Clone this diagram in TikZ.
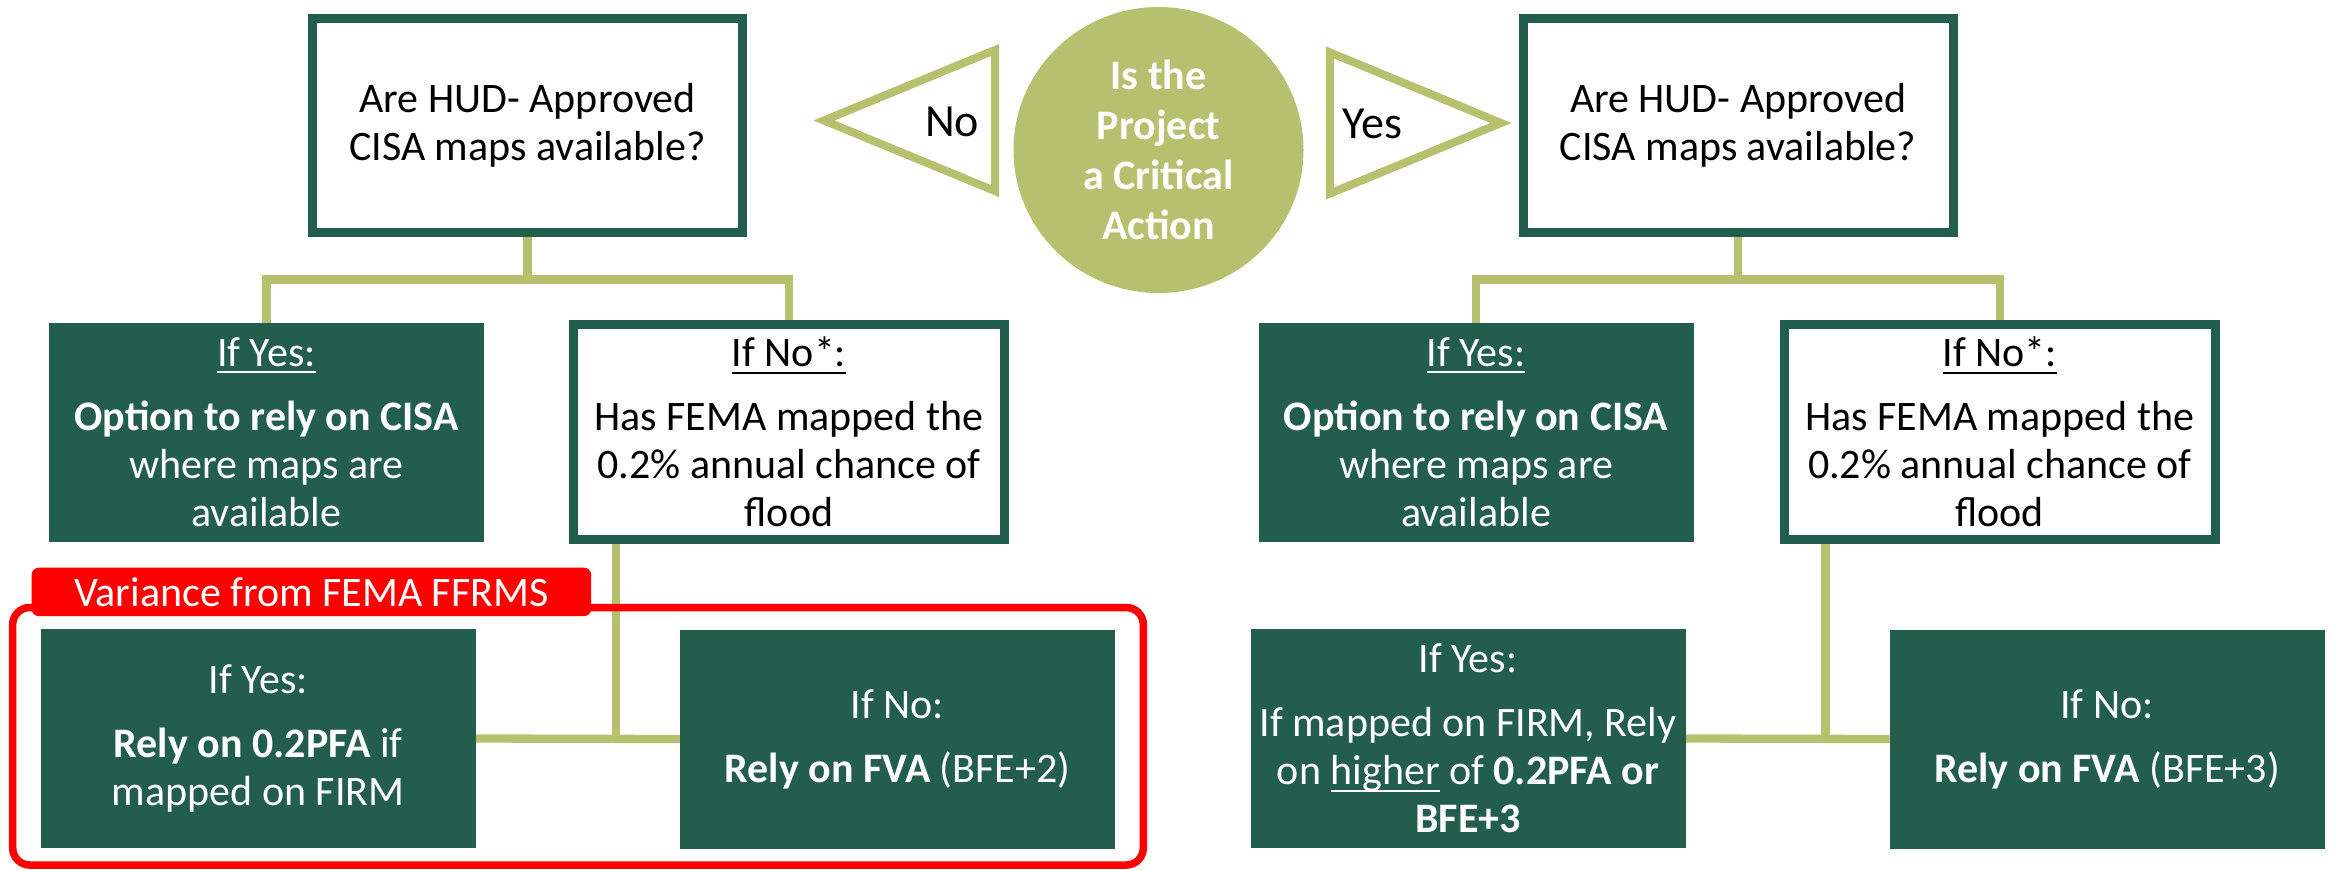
\documentclass[tikz,border=0pt]{standalone}
\usepackage{fontspec}
\setmainfont{Carlito}
\usetikzlibrary{shapes.geometric,backgrounds}
\definecolor{dkgreen}{HTML}{225E4B}
\definecolor{olivegr}{HTML}{B5C16F}
\definecolor{redx}{HTML}{FF0000}
\newcommand\myul[1]{\setbox0\hbox{#1}\rlap{\rule[-3.5pt]{\wd0}{1pt}}\box0\relax}
\begin{document}
\begin{tikzpicture}[x=0.5pt,y=-0.5pt,
  every node/.style={inner sep=0pt, outer sep=0pt},
  txt/.style={font=\fontsize{21}{24}\selectfont, align=center},
  qbox/.style={txt, draw=dkgreen, line width=4.5pt, fill=white, minimum width=215pt, minimum height=107pt, text=black},
  nbox/.style={txt, draw=dkgreen, line width=4.5pt, fill=white, minimum width=215.5pt, minimum height=107.5pt, text=black},
  gbox/.style={txt, fill=dkgreen, minimum width=217.5pt, minimum height=109.5pt, text=white},
  conn/.style={draw=olivegr, line width=4.15pt},
  tri/.style={draw=olivegr, line width=4pt, fill=white, line join=miter},
  lbl/.style={font=\fontsize{23}{27}\selectfont, text=black}]
\useasboundingbox (0,0) rectangle (2336,869);

% top question boxes
\node[qbox] (qL) at (527.5,125.5) {Are HUD- Approved\\CISA maps available?};
\node[qbox] (qR) at (1738,125.5) {Are HUD- Approved\\CISA maps available?};

% central decision
\node[ellipse, fill=olivegr, minimum width=145pt, minimum height=143pt, align=center,
      font=\bfseries\fontsize{21}{25}\selectfont, text=white] (crit) at (1158.5,150)
      {Is the\\Project\\a Critical\\Action};

% arrow triangles
\coordinate (tnA) at (824,120.5);
\coordinate (tnB) at (995,50);
\coordinate (tnC) at (995,191);
\draw[tri] (tnA) -- (tnB) -- (tnC) -- cycle;
\coordinate (tyA) at (1330,52.5);
\coordinate (tyB) at (1330,193.5);
\coordinate (tyC) at (1501,123);
\draw[tri] (tyA) -- (tyB) -- (tyC) -- cycle;
\node[lbl] (no) at (952,122) {No};
\node[lbl] (yes) at (1372,124) {Yes};

% second row
\node[gbox] (ayL) at (266.5,432) {\myul{If Yes:}\\[8pt]\textbf{Option to rely on CISA}\\where maps are\\available};
\node[nbox] (anL) at (789,432) {\myul{If No*:}\\[8pt]Has FEMA mapped the\\0.2\% annual chance of\\flood};
\node[gbox] (ayR) at (1476,432) {\myul{If Yes:}\\[8pt]\textbf{Option to rely on CISA}\\where maps are\\available};
\node[nbox] (anR) at (1999.75,432) {\myul{If No*:}\\[8pt]Has FEMA mapped the\\0.2\% annual chance of\\flood};

% third row
\node[gbox] (byL) at (258.25,738.5) {If Yes:\\[8pt]\textbf{Rely on 0.2PFA} if\\mapped on FIRM};
\node[gbox] (bnL) at (897.5,739) {If No:\\[8pt]\textbf{Rely on FVA} (BFE+2)};
\node[gbox] (byR) at (1468,738.5) {If Yes:\\[8pt]If mapped on FIRM, Rely\\on \myul{higher} of \textbf{0.2PFA or}\\\textbf{BFE+3}};
\node[gbox] (bnR) at (2107,739) {If No:\\[8pt]\textbf{Rely on FVA} (BFE+3)};

% variance frame
\node[draw=redx, line width=3.75pt, rounded corners=8.5pt, minimum width=565.3pt, minimum height=128.75pt] (frame) at (578,736.25) {};
\node[fill=redx, rounded corners=3.5pt, minimum width=279.7pt, minimum height=24.2pt,
      font=\fontsize{21}{24}\selectfont, text=white] (var) at (311.4,591.9) {Variance from FEMA FFRMS};

% background and connectors
\begin{scope}[on background layer]
  \fill[white] (0,0) rectangle (2336,869);
  \coordinate (jL) at (527.5,279.5);
  \draw[conn] (qL.south) -- (jL);
  \draw[conn] (ayL.north) |- (jL) -| (anL.north);
  \coordinate (jR) at (1738,279.5);
  \draw[conn] (qR.south) -- (jR);
  \draw[conn] (ayR.north) |- (jR) -| (anR.north);
  \coordinate (kL) at (616,739);
  \draw[conn] (anL.south -| kL) -- (kL);
  \draw[conn] (byL.east) -- (bnL.west);
  \coordinate (kR) at (1825.5,739);
  \draw[conn] (anR.south -| kR) -- (kR);
  \draw[conn] (byR.east) -- (bnR.west);
\end{scope}
\end{tikzpicture}
\end{document}
